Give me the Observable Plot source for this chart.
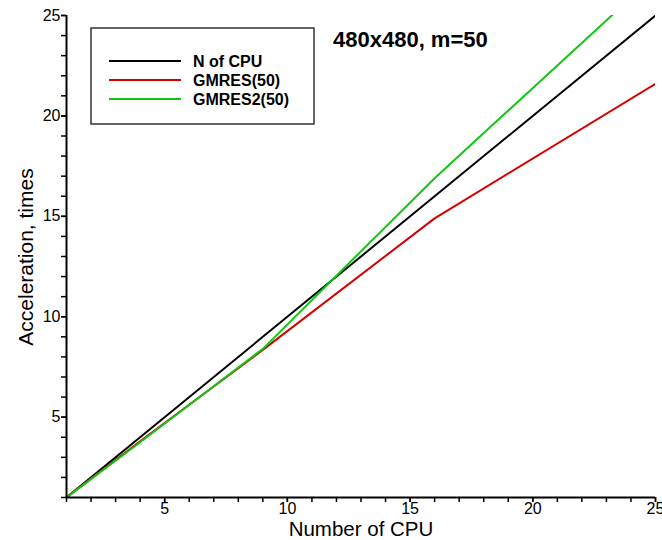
<!DOCTYPE html>
<html>
<head>
<meta charset="utf-8">
<script src="https://cdn.jsdelivr.net/npm/d3@7"></script>
<script src="https://cdn.jsdelivr.net/npm/@observablehq/plot@0.6"></script>
<style>
  body { margin: 0; background: #fff; }
  #wrap { position: relative; width: 662px; height: 540px; overflow: hidden; background: #fff; }
  #wrap > svg { position: absolute; left: 0; top: 0; }
</style>
</head>
<body>
<div id="wrap"></div>
<script>
// ---- data ----
const cpus = [1, 4, 9, 16, 25];
const idealSpeedup = [1, 4, 9, 16, 25];
const gmresSpeedup = [1, 3.8, 8.35, 14.9, 21.6];
const gmres2Speedup = [1, 3.75, 8.4, 16.9, 27.0];
const seriesNames = ["N of CPU", "GMRES(50)", "GMRES2(50)"];
const seriesColors = ["#000000", "#d40000", "#10c810"];
const majorTicks = [5, 10, 15, 20, 25];
const minorTicks = d3.range(1, 26);
const titleText = "480x480, m=50";
const xLabel = "Number of CPU";
const yLabel = "Acceleration, times";

const seriesValues = [idealSpeedup, gmresSpeedup, gmres2Speedup];
const rows = seriesNames.flatMap((name, i) =>
  cpus.map((c, j) => ({series: name, cpu: c, value: seriesValues[i][j]})));

const font = "'Liberation Sans', Arial, Helvetica, sans-serif";

const chart = Plot.plot({
  width: 662,
  height: 540,
  marginLeft: 66,
  marginRight: 7,
  marginTop: 15,
  marginBottom: 43,
  x: {domain: [1, 25]},
  y: {domain: [1, 25]},
  color: {domain: seriesNames, range: seriesColors},
  style: {fontFamily: font, fontSize: "16px", color: "#000", background: "#fff"},
  marks: [
    Plot.axisX(minorTicks, {tickSize: 5, tickFormat: () => "", strokeWidth: 1.5, label: null}),
    Plot.axisX(majorTicks, {tickSize: 5, tickPadding: 0.5, strokeWidth: 1.5, label: null}),
    Plot.axisY(minorTicks, {tickSize: 5, tickFormat: () => "", strokeWidth: 1.5, label: null}),
    Plot.axisY(majorTicks, {tickSize: 5, tickPadding: 1, strokeWidth: 1.5, label: null}),
    ...seriesNames.map(name =>
      Plot.line(rows.filter(d => d.series === name), {
        x: "cpu", y: "value", stroke: "series", strokeWidth: 2, clip: true
      })),
    Plot.ruleX([1], {stroke: "#000", strokeWidth: 2}),
    Plot.ruleY([1], {stroke: "#000", strokeWidth: 2})
  ]
});

const wrap = document.getElementById("wrap");
wrap.appendChild(chart);

// ---- overlay: legend, title, axis labels ----
const ov = d3.select(wrap).append("svg")
  .attr("width", 662).attr("height", 540)
  .style("position", "absolute").style("left", 0).style("top", 0)
  .style("pointer-events", "none");

ov.append("rect")
  .attr("x", 91).attr("y", 28).attr("width", 223).attr("height", 96)
  .attr("fill", "#fff").attr("stroke", "#333").attr("stroke-width", 1.5);

seriesNames.forEach((name, i) => {
  const yy = 61 + i * 19;
  ov.append("line")
    .attr("x1", 109).attr("x2", 181).attr("y1", yy).attr("y2", yy)
    .attr("stroke", seriesColors[i]).attr("stroke-width", 2);
  ov.append("text")
    .attr("x", 193).attr("y", yy + 6)
    .attr("font-family", font).attr("font-weight", "bold").attr("font-size", 16)
    .attr("fill", "#000")
    .text(name);
});

ov.append("text")
  .attr("x", 333).attr("y", 47)
  .attr("font-family", font).attr("font-weight", "bold").attr("font-size", 22)
  .attr("fill", "#000")
  .text(titleText);

ov.append("text")
  .attr("x", 361).attr("y", 536)
  .attr("text-anchor", "middle")
  .attr("font-family", font).attr("font-size", 20.5)
  .attr("fill", "#000")
  .text(xLabel);

ov.append("text")
  .attr("transform", "translate(33,257) rotate(-90)")
  .attr("text-anchor", "middle")
  .attr("font-family", font).attr("font-size", 21)
  .attr("fill", "#000")
  .text(yLabel);
</script>
</body>
</html>
